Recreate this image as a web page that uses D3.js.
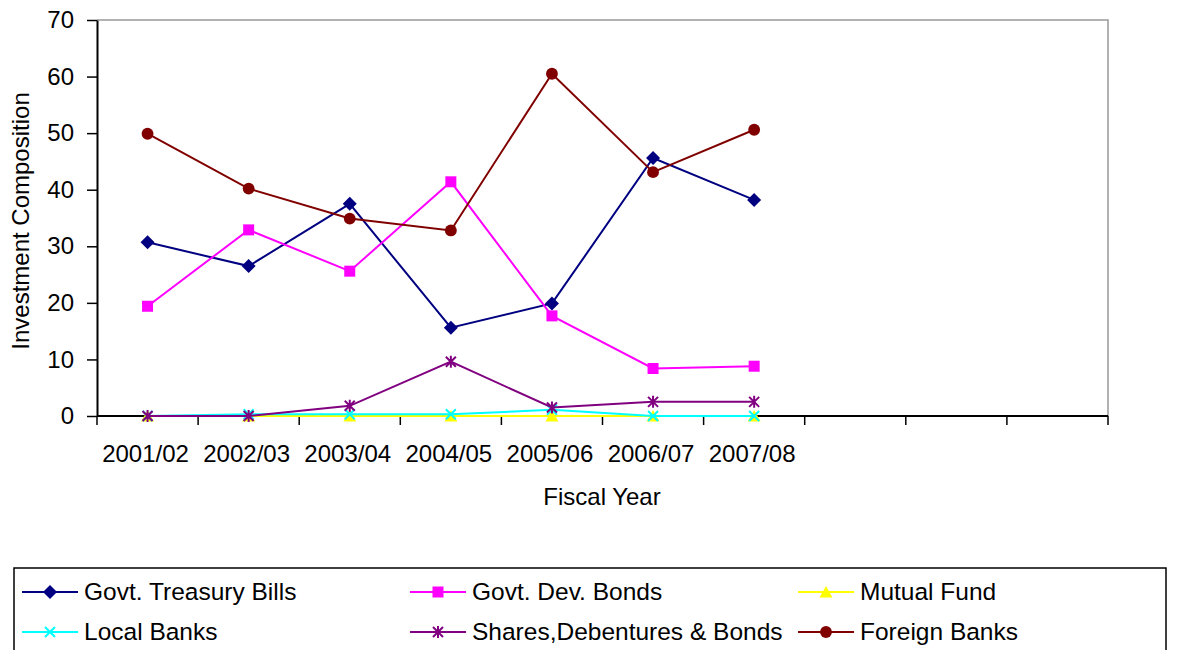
<!DOCTYPE html>
<html>
<head>
<meta charset="utf-8">
<script src="https://cdn.jsdelivr.net/npm/d3@7"></script>
<style>
  html, body { margin: 0; padding: 0; background: #fff; }
  svg { display: block; font-family: "Liberation Sans", Arial, sans-serif; }
</style>
</head>
<body>
<svg id="chart" width="1184" height="650"></svg>
<script>
// Fiscal years shown on the category axis (axis has room for 10 slots)
const years = ["2001/02", "2002/03", "2003/04", "2004/05", "2005/06", "2006/07", "2007/08"];
const slotCount = 10;
const yTicks = [0, 10, 20, 30, 40, 50, 60, 70];

// Investment composition (%) by instrument
const treasuryBills = [30.7, 26.5, 37.5, 15.6, 19.9, 45.6, 38.2];
const devBonds      = [19.4, 32.9, 25.6, 41.4, 17.7, 8.4, 8.8];
const mutualFund    = [0, 0, 0, 0, 0, 0, 0];
const localBanks    = [0, 0.3, 0.3, 0.3, 1.1, 0, 0];
const sharesDebs    = [0, 0, 1.8, 9.6, 1.5, 2.5, 2.5];
const foreignBanks  = [49.9, 40.2, 34.9, 32.8, 60.5, 43.1, 50.6];

const seriesNames = ["Govt. Treasury Bills", "Govt. Dev. Bonds", "Mutual Fund",
                     "Local Banks", "Shares,Debentures & Bonds", "Foreign Banks"];
const seriesValues = [treasuryBills, devBonds, mutualFund, localBanks, sharesDebs, foreignBanks];
const seriesColors = ["#000080", "#FF00FF", "#FFFF00", "#00FFFF", "#800080", "#800000"];
const seriesMarkers = ["diamond", "square", "triangle", "cross", "asterisk", "circle"];

const svg = d3.select("#chart");
const plot = { left: 97, right: 1108, top: 20, bottom: 416 };
const FONT = 24;
const LEGEND_FONT = 24.5;

const x = d3.scaleBand().domain(d3.range(slotCount)).range([plot.left, plot.right]).padding(0);
const y = d3.scaleLinear().domain([0, 70]).range([plot.bottom, plot.top]);

// plot frame: grey top/right border
svg.append("path")
  .attr("d", `M${plot.left},${plot.top}H${plot.right}V${plot.bottom}`)
  .attr("fill", "none").attr("stroke", "#999").attr("stroke-width", 1.5);

// y axis
const yAxis = svg.append("g")
  .attr("transform", `translate(${plot.left},0)`)
  .call(d3.axisLeft(y).tickValues(yTicks).tickSize(10).tickPadding(13).tickSizeOuter(0));
yAxis.select(".domain").attr("stroke", "#000").attr("stroke-width", 2);
yAxis.selectAll(".tick line").attr("stroke", "#000").attr("stroke-width", 1.5);
yAxis.selectAll(".tick text").attr("font-size", FONT).attr("fill", "#000")
  .attr("font-family", "'Liberation Sans', Arial, sans-serif");

// x axis: baseline with tick marks at slot boundaries
const xg = svg.append("g");
xg.append("line")
  .attr("x1", plot.left).attr("x2", plot.right)
  .attr("y1", y(0)).attr("y2", y(0))
  .attr("stroke", "#000").attr("stroke-width", 2);
const edges = d3.range(slotCount + 1).map(i => plot.left + i * x.bandwidth());
xg.selectAll("line.tk").data(edges).join("line").attr("class", "tk")
  .attr("x1", d => d).attr("x2", d => d)
  .attr("y1", y(0)).attr("y2", y(0) + 9)
  .attr("stroke", "#000").attr("stroke-width", 1.5);
xg.selectAll("text").data(years).join("text")
  .attr("x", (d, i) => x(i) + x.bandwidth() / 2 - 2)
  .attr("y", 462)
  .attr("text-anchor", "middle")
  .attr("font-size", FONT)
  .text(d => d);

// axis titles
svg.append("text")
  .attr("x", 602).attr("y", 505)
  .attr("text-anchor", "middle").attr("font-size", FONT)
  .text("Fiscal Year");
svg.append("text")
  .attr("transform", "translate(29,221) rotate(-90)")
  .attr("text-anchor", "middle").attr("font-size", FONT)
  .text("Investment Composition");

// marker shapes
function markerPath(type) {
  switch (type) {
    case "diamond": return "M0,-7L7,0L0,7L-7,0Z";
    case "square": return "M-5.5,-5.5H5.5V5.5H-5.5Z";
    case "triangle": return "M0,-6L6.5,5.5H-6.5Z";
    case "circle": return d3.symbol(d3.symbolCircle, 110)();
    case "cross": return "M-5,-5L5,5M5,-5L-5,5";
    case "asterisk": return "M-5,-5L5,5M5,-5L-5,5M0,-6V6";
  }
}
function drawMarker(g, type, color) {
  const open = type === "cross" || type === "asterisk";
  g.append("path")
    .attr("d", markerPath(type))
    .attr("fill", open ? "none" : color)
    .attr("stroke", color)
    .attr("stroke-width", open ? 2 : 0);
}

const cx = i => x(i) + x.bandwidth() / 2;
const line = d3.line().x((d, i) => cx(i)).y(d => y(d));

// series lines and markers
seriesValues.forEach((vals, s) => {
  const g = svg.append("g");
  g.append("path")
    .attr("d", line(vals))
    .attr("fill", "none")
    .attr("stroke", seriesColors[s])
    .attr("stroke-width", 2);
  vals.forEach((v, i) => {
    const m = g.append("g").attr("transform", `translate(${cx(i)},${y(v)})`);
    drawMarker(m, seriesMarkers[s], seriesColors[s]);
  });
});

// legend
const legend = svg.append("g");
legend.append("rect")
  .attr("x", 14).attr("y", 568).attr("width", 1152).attr("height", 100)
  .attr("fill", "none").attr("stroke", "#000").attr("stroke-width", 1.5);
const colX = [22, 410, 798];
const rowY = [592, 632];
seriesNames.forEach((name, s) => {
  const lx = colX[s % 3], ly = rowY[Math.floor(s / 3)];
  const g = legend.append("g");
  g.append("line")
    .attr("x1", lx).attr("x2", lx + 56).attr("y1", ly).attr("y2", ly)
    .attr("stroke", seriesColors[s]).attr("stroke-width", 2);
  const m = g.append("g").attr("transform", `translate(${lx + 28},${ly})`);
  drawMarker(m, seriesMarkers[s], seriesColors[s]);
  g.append("text")
    .attr("x", lx + 62).attr("y", ly + 8)
    .attr("font-size", LEGEND_FONT)
    .text(name);
});
</script>
</body>
</html>
